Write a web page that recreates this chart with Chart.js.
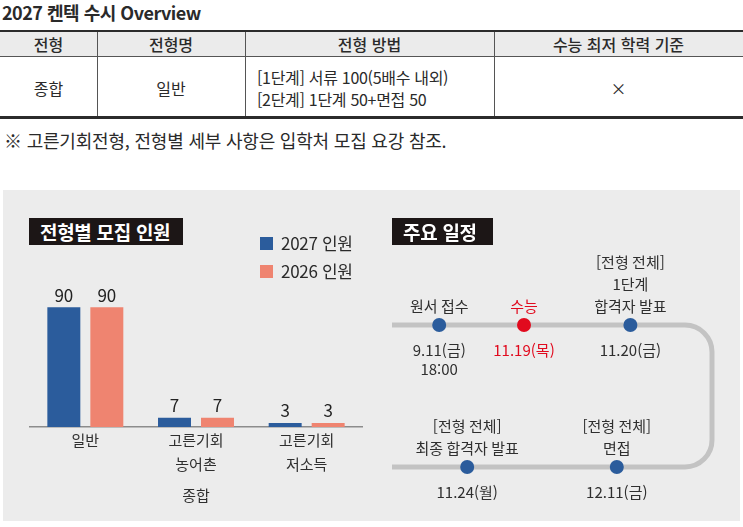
<!DOCTYPE html>
<html lang="ko">
<head>
<meta charset="utf-8">
<script src="https://cdn.jsdelivr.net/npm/chart.js@4.4.1/dist/chart.umd.min.js"></script>
<style>
  html, body { margin: 0; padding: 0; background: #fff; }
  body { width: 743px; height: 527px; position: relative; overflow: hidden;
         font-family: 'Noto Sans CJK KR', 'Noto Sans', sans-serif; color: #2a2a2a; }
  .abs { position: absolute; }
  .title { left: 2px; top: 1px; font-size: 18px; font-weight: 600; letter-spacing: -0.5px; line-height: 23px; }
  .rule-thick { left: 0; width: 743px; height: 2px; background: #2b2b2b; }
  .rule-thin { left: 0; width: 743px; height: 1px; background: #555; }
  .head-bg { left: 0; top: 32px; width: 743px; height: 24px; background: #ebebeb; }
  .vline { top: 32px; width: 1px; height: 84px; background: #555; }
  .cell { text-align: center; font-size: 16px; }
  .head { top: 32px; height: 24px; line-height: 24px; font-weight: 500; }
  .body { top: 58px; height: 60px; line-height: 60px; }
  .method { left: 257px; top: 66px; font-size: 16px; line-height: 22px; letter-spacing: -0.3px; }
  .note { left: 4px; top: 129px; font-size: 18px; line-height: 23px; letter-spacing: -0.2px; }
  .panel { left: 3px; top: 190px; width: 737px; height: 331px; background: #ececec; }
  .badge { top: 218px; height: 27px; line-height: 27px; background: #1c1616; color: #fff;
           font-size: 19px; font-weight: 700; padding-left: 11px; box-sizing: border-box; letter-spacing: -0.3px; }
  canvas { position: absolute; }
  #legend { left: 260px; top: 229px; font-size: 17px; letter-spacing: -0.3px; }
  #legend div { height: 28px; line-height: 28px; display: flex; align-items: center; }
  #legend span { display: inline-block; width: 13px; height: 13px; margin-right: 8px; }
</style>
</head>
<body>
<div class="abs title">2027 켄텍 수시 Overview</div>

<div class="abs head-bg"></div>
<div class="abs rule-thick" style="top:30px"></div>
<div class="abs rule-thin" style="top:56px"></div>
<div class="abs rule-thick" style="top:116px;height:3px"></div>
<div class="abs vline" style="left:97px"></div>
<div class="abs vline" style="left:245px"></div>
<div class="abs vline" style="left:494px"></div>

<div class="abs cell head" style="left:0;width:97px">전형</div>
<div class="abs cell head" style="left:97px;width:148px">전형명</div>
<div class="abs cell head" style="left:245px;width:249px">전형 방법</div>
<div class="abs cell head" style="left:494px;width:249px">수능 최저 학력 기준</div>

<div class="abs cell body" style="left:0;width:97px">종합</div>
<div class="abs cell body" style="left:97px;width:148px">일반</div>
<div class="abs method">[1단계] 서류 100(5배수 내외)<br>[2단계] 1단계 50+면접 50</div>
<div class="abs cell body" style="left:494px;width:249px">×</div>

<div class="abs note">※ 고른기회전형, 전형별 세부 사항은 입학처 모집 요강 참조.</div>

<div class="abs panel"></div>
<canvas id="recruit-chart" width="375" height="330" style="left:0;top:190px"></canvas>
<canvas id="schedule-chart" width="365" height="330" style="left:375px;top:190px"></canvas>
<div class="abs badge" style="left:29px;width:154px">전형별 모집 인원</div>
<div class="abs badge" style="left:392px;width:101px">주요 일정</div>
<div class="abs" id="legend"></div>

<script>
const FONT_FAMILY = "'Noto Sans CJK KR', 'Noto Sans', sans-serif";

// 전형별 모집 인원
const CATEGORIES = [['일반'], ['고른기회', '농어촌'], ['고른기회', '저소득']];
const CATEGORY_GROUP = '종합';
const SERIES_NAMES = ['2027 인원', '2026 인원'];
const RECRUIT_2027 = [90, 7, 3];
const RECRUIT_2026 = [90, 7, 3];
const SERIES_COLORS = ['#2b5c9c', '#ef8470'];

// 주요 일정 (track position along the row, row 1 = upper, 0 = lower)
const EVENT_NAMES = [['원서 접수'], ['수능'], ['[전형 전체]', '1단계', '합격자 발표'], ['[전형 전체]', '면접'], ['[전형 전체]', '최종 합격자 발표']];
const EVENT_DATES = [['9.11(금)', '18:00'], ['11.19(목)'], ['11.20(금)'], ['12.11(금)'], ['11.24(월)']];
const EVENT_STEP = [0.59, 1.65, 2.98, 2.81, 0.94];
const EVENT_ROW = [1, 1, 1, 0, 0];
const KEY_EVENT = 1;

const TEXT_COLOR = '#2f2f2f';
const POINT_COLOR = '#2b5c9c';
const KEY_COLOR = '#e10a1e';

Chart.defaults.font.family = FONT_FAMILY;

const barValueLabels = {
  id: 'barValueLabels',
  afterDatasetsDraw(chart) {
    const ctx = chart.ctx;
    ctx.save();
    ctx.font = '17px ' + FONT_FAMILY;
    ctx.fillStyle = '#222';
    ctx.textAlign = 'center';
    ctx.textBaseline = 'middle';
    chart.data.datasets.forEach((ds, i) => {
      chart.getDatasetMeta(i).data.forEach((bar, j) => {
        ctx.fillText(ds.data[j], bar.x, bar.y - 12);
      });
    });
    ctx.restore();
  }
};

const recruitChart = new Chart(document.getElementById('recruit-chart'), {
  type: 'bar',
  data: {
    labels: CATEGORIES,
    datasets: [
      { label: SERIES_NAMES[0], data: RECRUIT_2027, backgroundColor: SERIES_COLORS[0] },
      { label: SERIES_NAMES[1], data: RECRUIT_2026, backgroundColor: SERIES_COLORS[1] }
    ]
  },
  options: {
    responsive: false,
    animation: false,
    categoryPercentage: 0.777,
    barPercentage: 0.767,
    layout: { padding: { left: 30, right: 13, top: 104, bottom: 0 } },
    plugins: { legend: { display: false }, tooltip: { enabled: false } },
    scales: {
      x: {
        grid: { display: false, drawTicks: false },
        border: { display: true, color: '#8c8c8c', width: 1.5 },
        ticks: { color: TEXT_COLOR, font: { size: 15, lineHeight: 1.6 }, padding: 1, maxRotation: 0, autoSkip: false },
        title: { display: true, text: CATEGORY_GROUP, color: TEXT_COLOR, font: { size: 15, lineHeight: 1.6 }, padding: { top: 0, bottom: 13 } },
        afterFit(scale) { scale.height = 93; }
      },
      y: { display: false, min: 0, max: 100 }
    }
  },
  plugins: [barValueLabels]
});

// legend built from the chart's datasets
document.getElementById('legend').innerHTML = recruitChart.data.datasets
  .map(ds => `<div><span style="background:${ds.backgroundColor}"></span>${ds.label}</div>`).join('');

const scheduleTrack = {
  id: 'scheduleTrack',
  beforeDatasetsDraw(chart) {
    const { ctx, scales: { x, y } } = chart;
    const left = x.getPixelForValue(x.min);
    const right = x.getPixelForValue(x.max);
    const top = y.getPixelForValue(1);
    const bottom = y.getPixelForValue(0);
    const r = 27;
    ctx.save();
    ctx.strokeStyle = '#c3c3c3';
    ctx.lineWidth = 5;
    ctx.beginPath();
    ctx.moveTo(left, top);
    ctx.lineTo(right - r, top);
    ctx.arcTo(right, top, right, top + r, r);
    ctx.lineTo(right, bottom - r);
    ctx.arcTo(right, bottom, right - r, bottom, r);
    ctx.lineTo(left, bottom);
    ctx.stroke();
    ctx.restore();
  }
};

const scheduleLabels = {
  id: 'scheduleLabels',
  afterDatasetsDraw(chart) {
    const ctx = chart.ctx;
    ctx.save();
    ctx.font = '15px ' + FONT_FAMILY;
    ctx.textAlign = 'center';
    ctx.textBaseline = 'middle';
    chart.getDatasetMeta(0).data.forEach((pt, i) => {
      ctx.fillStyle = i === KEY_EVENT ? KEY_COLOR : TEXT_COLOR;
      const names = EVENT_NAMES[i];
      names.forEach((line, k) => {
        ctx.fillText(line, pt.x, pt.y - 19 - (names.length - 1 - k) * 22);
      });
      EVENT_DATES[i].forEach((line, k) => {
        ctx.fillText(line, pt.x, pt.y + 25 + k * 19);
      });
    });
    ctx.restore();
  }
};

new Chart(document.getElementById('schedule-chart'), {
  type: 'scatter',
  data: {
    datasets: [{
      label: '주요 일정',
      data: EVENT_STEP.map((s, i) => ({ x: s, y: EVENT_ROW[i] })),
      pointRadius: 7,
      pointBorderWidth: 0,
      pointBackgroundColor: EVENT_STEP.map((s, i) => i === KEY_EVENT ? KEY_COLOR : POINT_COLOR),
      clip: false
    }]
  },
  options: {
    responsive: false,
    animation: false,
    layout: { padding: { left: 17, right: 28, top: 135, bottom: 53 } },
    plugins: { legend: { display: false }, tooltip: { enabled: false } },
    scales: {
      x: { display: false, min: 0, max: 4 },
      y: { display: false, min: 0, max: 1 }
    }
  },
  plugins: [scheduleTrack, scheduleLabels]
});
</script>
</body>
</html>
